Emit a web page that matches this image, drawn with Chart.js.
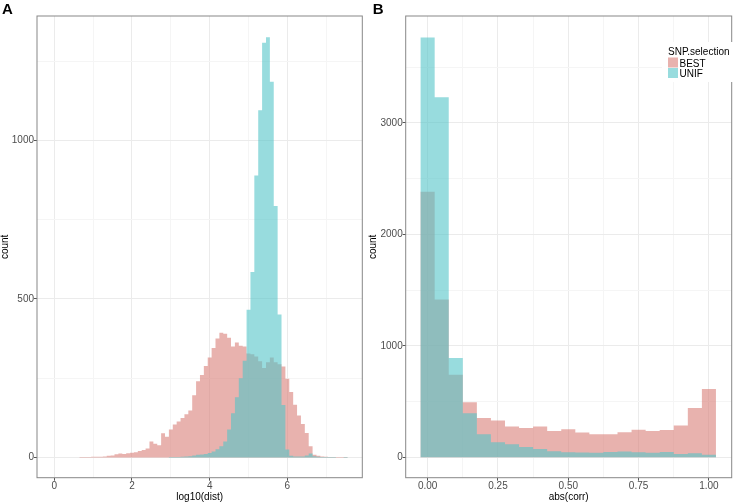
<!DOCTYPE html>
<html>
<head>
<meta charset="utf-8">
<script src="https://cdn.jsdelivr.net/npm/chart.js@4.4.1/dist/chart.umd.min.js"></script>
<style>
  body { margin: 0; background: #fff; }
  #painel { position: relative; width: 733px; height: 504px; overflow: hidden; }
  canvas { position: absolute; top: 0; }
  #graficoA { left: 0; }
  #graficoB { left: 365px; }
</style>
</head>
<body>
<div id="painel">
  <canvas id="graficoA" width="365" height="504"></canvas>
  <canvas id="graficoB" width="368" height="504"></canvas>
</div>
<script>
// Painel A: histograma de log10(dist), centros das classes (largura 0.1)
// (classes vazias nas pontas para fechar o degrau)
const binsDist = [0.6, 0.7, 0.8, 0.9,
  1.0, 1.1, 1.2, 1.3, 1.4, 1.5, 1.6, 1.7, 1.8, 1.9,
  2.0, 2.1, 2.2, 2.3, 2.4, 2.5, 2.6, 2.7, 2.8, 2.9,
  3.0, 3.1, 3.2, 3.3, 3.4, 3.5, 3.6, 3.7, 3.8, 3.9,
  4.0, 4.1, 4.2, 4.3, 4.4, 4.5, 4.6, 4.7, 4.8, 4.9,
  5.0, 5.1, 5.2, 5.3, 5.4, 5.5, 5.6, 5.7, 5.8, 5.9,
  6.0, 6.1, 6.2, 6.3, 6.4, 6.5, 6.6, 6.7, 6.8, 6.9,
  7.0, 7.1, 7.2, 7.3, 7.4, 7.5, 7.6];
const bestDist = [0, 1, 1, 1,
  2, 2, 2, 3, 5, 6, 10, 12, 11, 13,
  15, 16, 20, 23, 28, 50, 43, 38, 76, 65,
  88, 104, 113, 124, 136, 148, 196, 240, 260, 288,
  315, 345, 375, 393, 390, 377, 350, 362, 352, 350,
  328, 325, 318, 303, 282, 300, 315, 300, 294, 287,
  248, 206, 166, 132, 105, 77, 35, 8, 5, 3,
  2, 1, 1, 1, 1, 1, 0];
const unifDist = [0, 0, 0, 0,
  0, 0, 0, 0, 0, 0, 0, 0, 0, 0,
  0, 0, 0, 0, 0, 0, 0, 0, 0, 0,
  1, 1, 1, 2, 3, 4, 6, 8, 9, 11,
  14, 19, 26, 35, 50, 88, 139, 190, 250, 305,
  466, 585, 889, 1095, 1308, 1325, 1185, 793, 451, 165,
  25, 5, 3, 3, 3, 6, 12, 4, 2, 1,
  1, 1, 1, 0, 0, 1, 0];

// Painel B: histograma de abs(corr) (largura 0.05)
const binsCorr = [-0.05, 0.00, 0.05, 0.10, 0.15, 0.20, 0.25, 0.30, 0.35, 0.40, 0.45, 0.50,
  0.55, 0.60, 0.65, 0.70, 0.75, 0.80, 0.85, 0.90, 0.95, 1.00, 1.05];
const bestCorr = [0, 2383, 1417, 741, 493, 353, 330, 276, 262, 276, 236, 252,
  222, 207, 207, 225, 248, 236, 246, 285, 442, 613, 0];
const unifCorr = [0, 3767, 3232, 891, 395, 206, 135, 118, 92, 75, 54, 45,
  43, 42, 48, 51, 45, 42, 48, 30, 37, 24, 0];

// marcas dos eixos (principais com rotulo, secundarias so com grade)
const ticksDistX = [0, 2, 4, 6];
const ticksDistXMenor = [1, 3, 5, 7];
const ticksDistY = [0, 500, 1000];
const ticksDistYMenor = [250, 750, 1250];
const ticksCorrX = [0, 0.25, 0.5, 0.75, 1];
const ticksCorrXMenor = [0.125, 0.375, 0.625, 0.875];
const ticksCorrY = [0, 1000, 2000, 3000];
const ticksCorrYMenor = [500, 1500, 2500, 3500];

const series = ["BEST", "UNIF"];
const corBest = "rgba(217, 127, 120, 0.6)";
const corUnif = "rgba(83, 197, 200, 0.6)";

Chart.defaults.font.family = '"Liberation Sans", Arial, sans-serif';
Chart.defaults.font.size = 10;

// junta x e y em pontos para o eixo linear
function pontos(bins, valores) {
  return bins.map(function (x, i) { return { x: x, y: valores[i] }; });
}

function eixo(min, max, principais, menores, titulo, formato, tamanho, horizontal, padTitulo) {
  const todas = principais.concat(menores).sort(function (a, b) { return a - b; });
  return {
    type: "linear",
    min: min,
    max: max,
    offset: false,
    afterBuildTicks: function (e) {
      e.ticks = todas.map(function (v) { return { value: v }; });
    },
    grid: {
      offset: false,
      color: function (c) { return principais.includes(c.tick.value) ? "#ebebeb" : "#f5f5f5"; },
      tickColor: function (c) { return principais.includes(c.tick.value) ? "#555" : "rgba(0,0,0,0)"; },
      tickLength: 3
    },
    border: { display: false },
    ticks: {
      autoSkip: false,
      maxRotation: 0,
      padding: 0,
      color: "#4d4d4d",
      callback: function (v) { return principais.includes(v) ? formato(v) : ""; }
    },
    title: {
      display: true,
      text: titulo,
      color: "#000",
      font: { size: 10, lineHeight: 1 },
      padding: padTitulo
    },
    afterFit: function (e) {
      if (horizontal) e.height = tamanho; else e.width = tamanho;
    }
  };
}

// moldura do painel e letra do painel
const moldura = {
  id: "moldura",
  afterDraw: function (chart, args, opts) {
    const ctx = chart.ctx;
    const a = chart.chartArea;
    ctx.save();
    ctx.strokeStyle = "#888";
    ctx.lineWidth = 1;
    ctx.strokeRect(a.left, a.top, a.right - a.left, a.bottom - a.top);
    ctx.fillStyle = "#000";
    ctx.font = 'bold 15px "Liberation Sans", Arial, sans-serif';
    ctx.textBaseline = "alphabetic";
    ctx.fillText(opts.letra, opts.x, 14);
    ctx.restore();
  }
};

// legenda dentro do painel B
const legenda = {
  id: "legenda",
  afterDraw: function (chart) {
    const ctx = chart.ctx;
    const cores = [corBest, corUnif];
    ctx.save();
    ctx.fillStyle = "#fff";
    ctx.fillRect(297, 42, 71, 40);
    ctx.font = '10px "Liberation Sans", Arial, sans-serif';
    ctx.textBaseline = "alphabetic";
    ctx.fillStyle = "#000";
    ctx.fillText("SNP.selection", 303, 54.5);
    for (let i = 0; i < series.length; i++) {
      ctx.fillStyle = cores[i];
      ctx.fillRect(303, 57.5 + i * 10.5, 10, 10);
      ctx.fillStyle = "#000";
      ctx.fillText(series[i], 314.5, 66.5 + i * 10.5);
    }
    ctx.restore();
  }
};

// histograma em degraus preenchidos (sem frestas entre as barras)
function conjuntos(bins, best, unif) {
  const base = { stepped: "middle", fill: "origin", borderWidth: 0, borderColor: "rgba(0,0,0,0)", pointRadius: 0 };
  return [
    Object.assign({ label: series[0], data: pontos(bins, best), backgroundColor: corBest, order: 1 }, base),
    Object.assign({ label: series[1], data: pontos(bins, unif), backgroundColor: corUnif, order: 0 }, base)
  ];
}

new Chart(document.getElementById("graficoA"), {
  type: "line",
  data: { datasets: conjuntos(binsDist, bestDist, unifDist) },
  options: {
    responsive: false,
    animation: false,
    layout: { padding: { top: 16, right: 2.7, left: 0, bottom: 0 } },
    scales: {
      x: eixo(-0.446, 7.93, ticksDistX, ticksDistXMenor, "log10(dist)", function (v) { return String(v); }, 26.3, true, { top: 0, bottom: 2 }),
      y: eixo(-64, 1392, ticksDistY, ticksDistYMenor, "count", function (v) { return String(v); }, 37, false, { top: 0, bottom: 0 })
    },
    plugins: {
      legend: { display: false },
      tooltip: { enabled: false },
      moldura: { letra: "A", x: 2 }
    }
  },
  plugins: [moldura]
});

new Chart(document.getElementById("graficoB"), {
  type: "line",
  data: { datasets: conjuntos(binsCorr, bestCorr, unifCorr) },
  options: {
    responsive: false,
    animation: false,
    layout: { padding: { top: 16, right: 1.3, left: 0, bottom: 0 } },
    scales: {
      x: eixo(-0.078, 1.081, ticksCorrX, ticksCorrXMenor, "abs(corr)", function (v) { return v.toFixed(2); }, 26.3, true, { top: 0, bottom: 2 }),
      y: eixo(-183, 3960, ticksCorrY, ticksCorrYMenor, "count", function (v) { return String(v); }, 40.7, false, { top: 3.3, bottom: 0 })
    },
    plugins: {
      legend: { display: false },
      tooltip: { enabled: false },
      moldura: { letra: "B", x: 7.7 }
    }
  },
  plugins: [moldura, legenda]
});
</script>
</body>
</html>
